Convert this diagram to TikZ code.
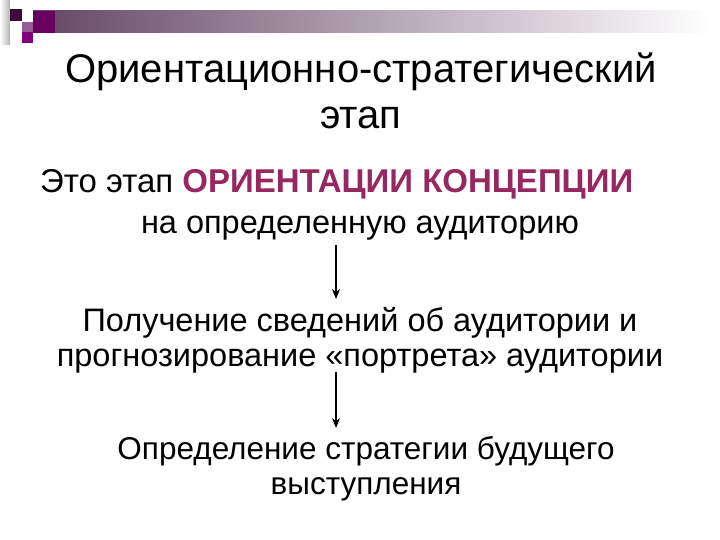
\documentclass[tikz,border=0pt]{standalone}
\usepackage{fontspec}
\setmainfont{Liberation Sans}
\usetikzlibrary{arrows.meta}
\definecolor{accent}{RGB}{150,40,95}
\definecolor{barL}{RGB}{100,70,100}
\definecolor{sqdark}{RGB}{60,10,60}
\definecolor{sqmag}{RGB}{130,0,120}
\definecolor{sqlight}{RGB}{150,90,150}
\begin{document}
\begin{tikzpicture}[x=1pt,y=-1pt,
  txt/.style={font=\fontsize{32.5}{35}\selectfont, inner sep=0pt, align=center},
  ttl/.style={font=\fontsize{40}{46}\selectfont, inner sep=0pt, align=center},
  conn/.style={-{Stealth[length=10pt,width=8pt]}, line width=1.2pt}]
\useasboundingbox (0,0) rectangle (720,540);
% decoration
\shade[left color=barL, right color=white] (33,11) rectangle (710,33);
\shade[left color=white, right color=gray!60] (0,0) rectangle (10,45);
\fill[sqdark] (10,9) rectangle (22,21);
\fill[sqlight] (22,22) rectangle (33,32);
\fill[sqmag] (22,32) rectangle (33,43);
\fill[sqmag!80!black] (33,11) rectangle (55,33);
% title
\node[ttl] (t1) at (361,72) {Ориентационно-стратегический};
\node[ttl] (t2) at (361,118) {этап};
% body
\node[txt, anchor=west, font=\fontsize{33}{35}\selectfont] (l1) at (40,184) {Это этап \textbf{\color{accent}ОРИЕНТАЦИИ КОНЦЕПЦИИ}};
\node[txt] (l2) at (360,228) {на определенную аудиторию};
\node[txt] (b2) at (360,340) {Получение сведений об аудитории и\\прогнозирование «портрета» аудитории};
\node[txt, font=\fontsize{31.5}{35}\selectfont] (b3) at (366,469) {Определение стратегии будущего\\выступления};
\coordinate (a1s) at (336,245);
\coordinate (a1e) at (336,299);
\coordinate (a2s) at (336,372);
\coordinate (a2e) at (336,428);
\draw[conn] (a1s) -- (a1e);
\draw[conn] (a2s) -- (a2e);
\end{tikzpicture}
\end{document}
